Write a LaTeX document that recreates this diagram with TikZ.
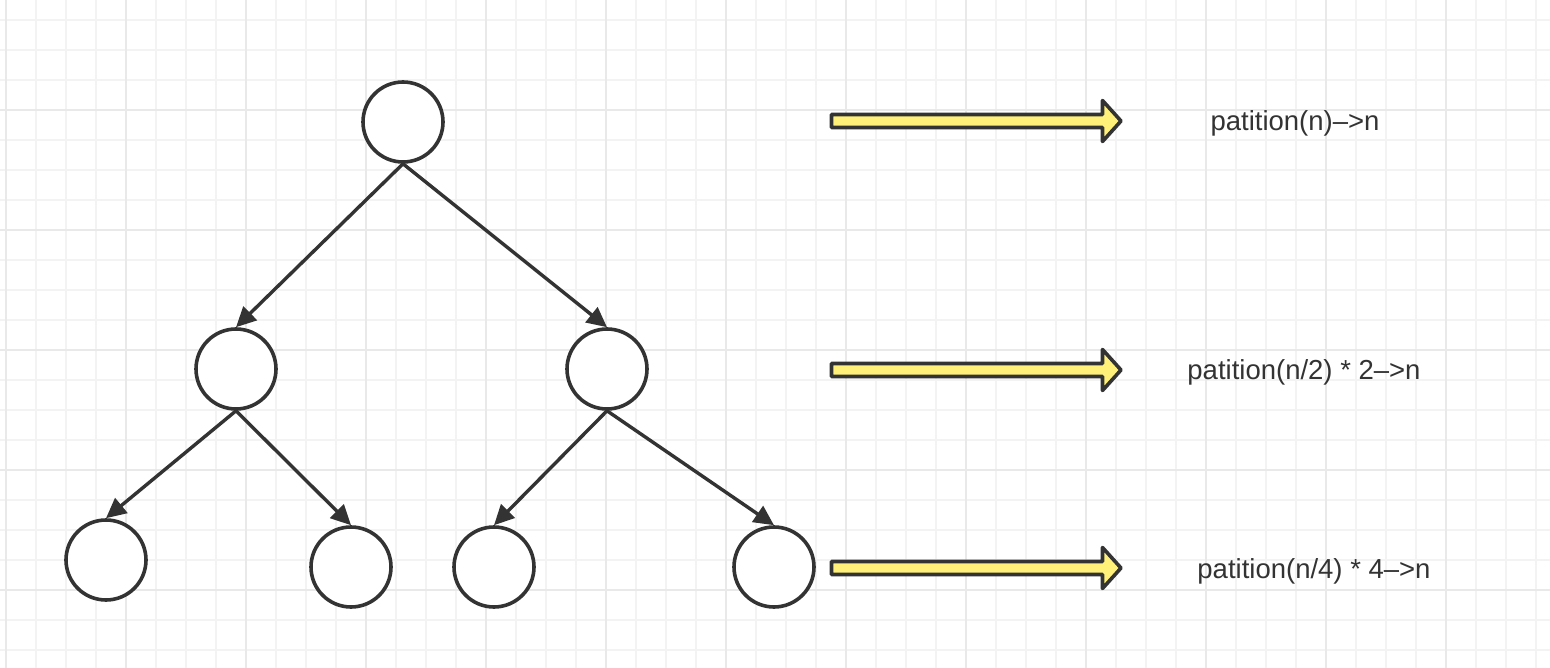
\documentclass[tikz,border=0pt]{standalone}
\usepackage{fontspec}
\setmainfont{Liberation Sans}
\usetikzlibrary{arrows.meta}
\definecolor{trait}{HTML}{333333}
\definecolor{jaune}{HTML}{FFF07A}
\definecolor{grillefine}{HTML}{F3F3F3}
\definecolor{grille}{HTML}{E9E9E9}
\tikzset{
  noeud/.style={circle, draw=trait, line width=3.6pt, fill=white, minimum size=80pt, inner sep=0pt},
  fleche/.style={draw=trait, line width=3.4pt, -{Triangle[length=20pt,width=19pt]}},
  grosse/.style={draw=trait, fill=jaune, line width=3.6pt, line join=round},
  etiquette/.style={text=trait, font=\fontsize{27.5}{32}\selectfont, inner sep=0pt}
}
\begin{document}
\begin{tikzpicture}[x=1pt, y=-1pt]
\useasboundingbox (0,0) rectangle (1550,668);
\fill[white] (0,0) rectangle (1550,668);
% Le quadrillage : traits fins tous les 30, traits plus marques tous les 120
\foreach \x in {6,36,...,1550} \draw[grillefine, line width=1.2pt] (\x,0) -- (\x,668);
\foreach \y in {20,50,...,668} \draw[grillefine, line width=1.2pt] (0,\y) -- (1550,\y);
\foreach \x in {6,126,...,1550} \draw[grille, line width=2pt] (\x,0) -- (\x,668);
\foreach \y in {110,230,...,668} \draw[grille, line width=2pt] (0,\y) -- (1550,\y);

% Les noeuds de l'arbre
\node[noeud] (racine) at (403,122) {};
\node[noeud] (gauche) at (236,369) {};
\node[noeud] (droite) at (607,369) {};
\node[noeud] (gg) at (106,560) {};
\node[noeud] (gd) at (351,567) {};
\node[noeud] (dg) at (494,567) {};
\node[noeud] (dd) at (774,567) {};

% Les fleches du pere vers les fils
\foreach \p/\f in {racine/gauche, racine/droite, gauche/gg, gauche/gd, droite/dg, droite/dd}
  \draw[fleche] (\p.south) -- (\f.north);

% Les grosses fleches jaunes, une par niveau
\foreach \y in {121,370,568}
  \draw[grosse] (831.5,\y-6.5) -- (1102.5,\y-6.5) -- (1102.5,\y-20.5) -- (1121,\y)
    -- (1102.5,\y+20.5) -- (1102.5,\y+6.5) -- (831.5,\y+6.5) -- cycle;

% Le cout de chaque niveau
\node[etiquette] (cout1) at (1295,123) {patition(n)-->n};
\node[etiquette] (cout2) at (1304,372) {patition(n/2) * 2-->n};
\node[etiquette] (cout3) at (1314,571) {patition(n/4) * 4-->n};
\end{tikzpicture}
\end{document}
